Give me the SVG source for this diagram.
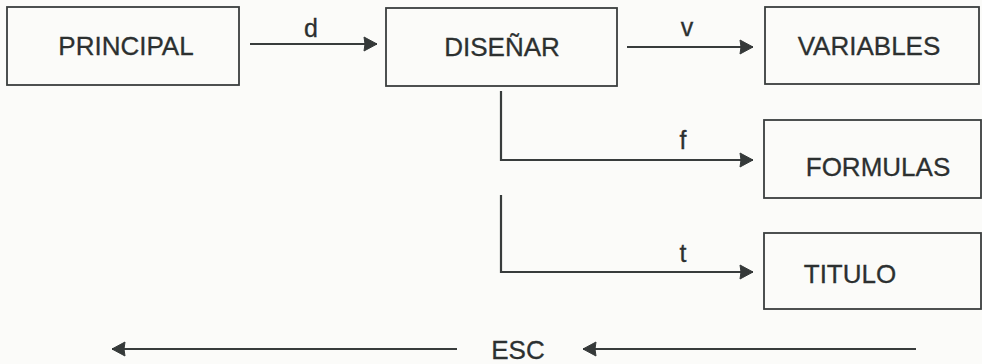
<svg xmlns="http://www.w3.org/2000/svg" width="982" height="364" viewBox="0 0 982 364">
  <defs>
    <marker id="ah" markerUnits="userSpaceOnUse" markerWidth="16" markerHeight="16" refX="14" refY="7" orient="auto" overflow="visible">
      <path d="M1,0 L14,7 L1,14 L2,7 Z" fill="#353939" stroke="#353939" stroke-width="1" stroke-linejoin="round"/>
    </marker>
    <style>
      .box { fill: none; stroke: #3a3e3e; stroke-width: 1.8; }
      .lbl { font-family: "Liberation Sans", Arial, sans-serif; font-size: 26px; fill: #2c3030; stroke: #2c3030; stroke-width: 0.3; }
      .small { font-family: "Liberation Sans", Arial, sans-serif; font-size: 25px; fill: #2c3030; stroke: #2c3030; stroke-width: 0.3; }
      .conn { fill: none; stroke: #383c3c; stroke-width: 2.2; }
    </style>
  </defs>
  <rect x="0" y="0" width="982" height="364" fill="#fbfbf9"/>

  <g id="principal">
    <rect class="box" x="7" y="7" width="232" height="78"/>
    <text class="lbl" x="126" y="55" text-anchor="middle">PRINCIPAL</text>
  </g>
  <g id="disenar">
    <rect class="box" x="386" y="8" width="231" height="78"/>
    <text class="lbl" x="502" y="56" text-anchor="middle">DISEÑAR</text>
  </g>
  <g id="variables">
    <rect class="box" x="765" y="7" width="214" height="77"/>
    <text class="lbl" x="869" y="55" text-anchor="middle">VARIABLES</text>
  </g>
  <g id="formulas">
    <rect class="box" x="764" y="120" width="217" height="78"/>
    <text class="lbl" x="878" y="176" text-anchor="middle">FORMULAS</text>
  </g>
  <g id="titulo">
    <rect class="box" x="764" y="233" width="217" height="76"/>
    <text class="lbl" x="850" y="283" text-anchor="middle">TITULO</text>
  </g>
  <g id="esc">
    <text class="lbl" x="518" y="359" text-anchor="middle">ESC</text>
  </g>

  <g id="connectors">
    <line class="conn" x1="250" y1="44" x2="377" y2="44" marker-end="url(#ah)"/>
    <text class="small" x="311" y="37" text-anchor="middle">d</text>
    <line class="conn" x1="627" y1="47" x2="753" y2="47" marker-end="url(#ah)"/>
    <text class="small" x="687" y="36" text-anchor="middle">v</text>
    <polyline class="conn" points="501,91 501,160 753,160" marker-end="url(#ah)"/>
    <text class="small" x="683" y="149" text-anchor="middle">f</text>
    <polyline class="conn" points="501,195 501,272 753,272" marker-end="url(#ah)"/>
    <text class="small" x="683" y="262" text-anchor="middle">t</text>
    <line class="conn" x1="916" y1="349" x2="583" y2="349" marker-end="url(#ah)"/>
    <line class="conn" x1="457" y1="349" x2="112" y2="349" marker-end="url(#ah)"/>
  </g>
</svg>
